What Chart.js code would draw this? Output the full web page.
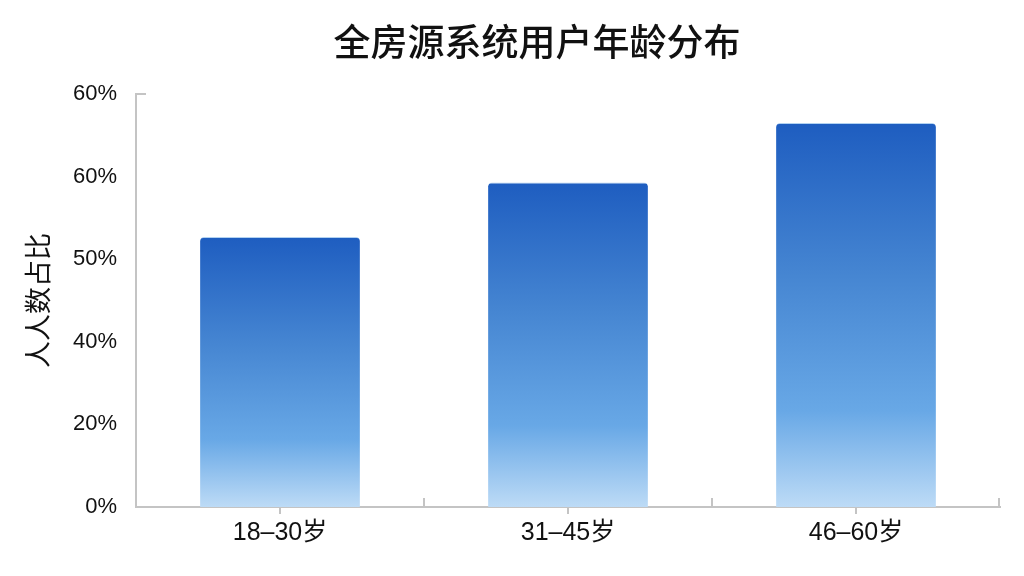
<!DOCTYPE html>
<html>
<head>
<meta charset="utf-8">
<script src="https://cdn.jsdelivr.net/npm/chart.js@4"></script>
<style>
  html, body { margin: 0; padding: 0; background: #fff; }
  #wrap { width: 1024px; height: 576px; }
</style>
</head>
<body>
<div id="wrap"><canvas id="ageChart" width="1024" height="576"></canvas></div>
<script>
// données (unités = position sur l'axe, 1 graduation = 1)
const categories = ['18–30岁', '31–45岁', '46–60岁']
const values = [3.27, 3.93, 4.65]
const yLabels = ['0%', '20%', '40%', '50%', '60%', '60%']
const titleText = '全房源系统用户年龄分布'

const ctx = document.getElementById('ageChart').getContext('2d')
const axisColor = '#c4c4c4'

// dégradé propre à chaque barre (foncé en haut, clair en bas)
function barGradient(context) {
  const chart = context.chart
  const { chartArea, scales } = chart
  if (!chartArea) return '#4a8ad6'
  const top = scales.y.getPixelForValue(context.raw)
  const bottom = scales.y.getPixelForValue(0)
  const g = chart.ctx.createLinearGradient(0, top, 0, bottom)
  g.addColorStop(0, '#1e5dc0')
  g.addColorStop(0.4, '#4686d2')
  g.addColorStop(0.75, '#68a8e6')
  g.addColorStop(1, '#bddbf6')
  return g
}

// titre décalé + petits traits (vers le haut entre catégories, à droite en haut de l'axe y)
const axisMarks = {
  id: 'axisMarks',
  afterDraw(chart) {
    const { ctx, scales } = chart
    const x = scales.x, y = scales.y
    ctx.save()
    ctx.fillStyle = '#111'
    ctx.font = '500 37px "Noto Sans CJK SC"'
    ctx.textAlign = 'center'
    ctx.textBaseline = 'middle'
    ctx.fillText(titleText, 537, 42)

    ctx.strokeStyle = axisColor
    ctx.lineWidth = 2
    const base = y.getPixelForValue(0)
    for (let i = 1; i <= categories.length; i++) {
      const px = i < categories.length
        ? (x.getPixelForValue(i - 1) + x.getPixelForValue(i)) / 2
        : x.right - 1
      ctx.beginPath()
      ctx.moveTo(px, base)
      ctx.lineTo(px, base - 9)
      ctx.stroke()
    }
    const topPx = y.getPixelForValue(yLabels.length - 1)
    ctx.beginPath()
    ctx.moveTo(x.left, topPx)
    ctx.lineTo(x.left + 10, topPx)
    ctx.stroke()
    ctx.restore()
  }
}

const chart = new Chart(ctx, {
  type: 'bar',
  data: {
    labels: categories,
    datasets: [{
      label: '人数占比',
      data: values,
      backgroundColor: barGradient,
      borderColor: 'rgba(170, 205, 240, 0.9)',
      borderWidth: { top: 1, left: 0, right: 0, bottom: 0 },
      borderRadius: { topLeft: 4, topRight: 4 },
      borderSkipped: 'bottom',
      barPercentage: 0.555,
      categoryPercentage: 1
    }]
  },
  options: {
    responsive: false,
    animation: false,
    layout: { padding: { left: 0, right: 24, top: 94, bottom: 0 } },
    plugins: {
      legend: { display: false },
      tooltip: { enabled: false },
      title: { display: false }
    },
    scales: {
      x: {
        grid: {
          display: true,
          offset: false,
          drawOnChartArea: false,
          drawTicks: true,
          tickLength: 7,
          color: axisColor,
          lineWidth: 2
        },
        border: { color: axisColor, width: 2 },
        ticks: {
          color: '#111',
          padding: 4,
          font: { family: 'Liberation Sans, Noto Sans CJK SC', size: 25 }
        },
        afterFit: scale => { scale.height = 69 }
      },
      y: {
        min: 0,
        max: yLabels.length - 1,
        grid: { display: false, drawTicks: false },
        border: { color: axisColor, width: 2 },
        ticks: {
          stepSize: 1,
          padding: 19,
          color: '#111',
          font: { family: 'Liberation Sans', size: 22 },
          callback: v => yLabels[v]
        },
        title: {
          display: true,
          text: '人人数占比',
          color: '#111',
          font: { family: 'Noto Sans CJK SC', size: 27 },
          padding: { top: 22, bottom: 0 }
        },
        afterFit: scale => { scale.width = 136 }
      }
    }
  },
  plugins: [axisMarks]
})
</script>
</body>
</html>
